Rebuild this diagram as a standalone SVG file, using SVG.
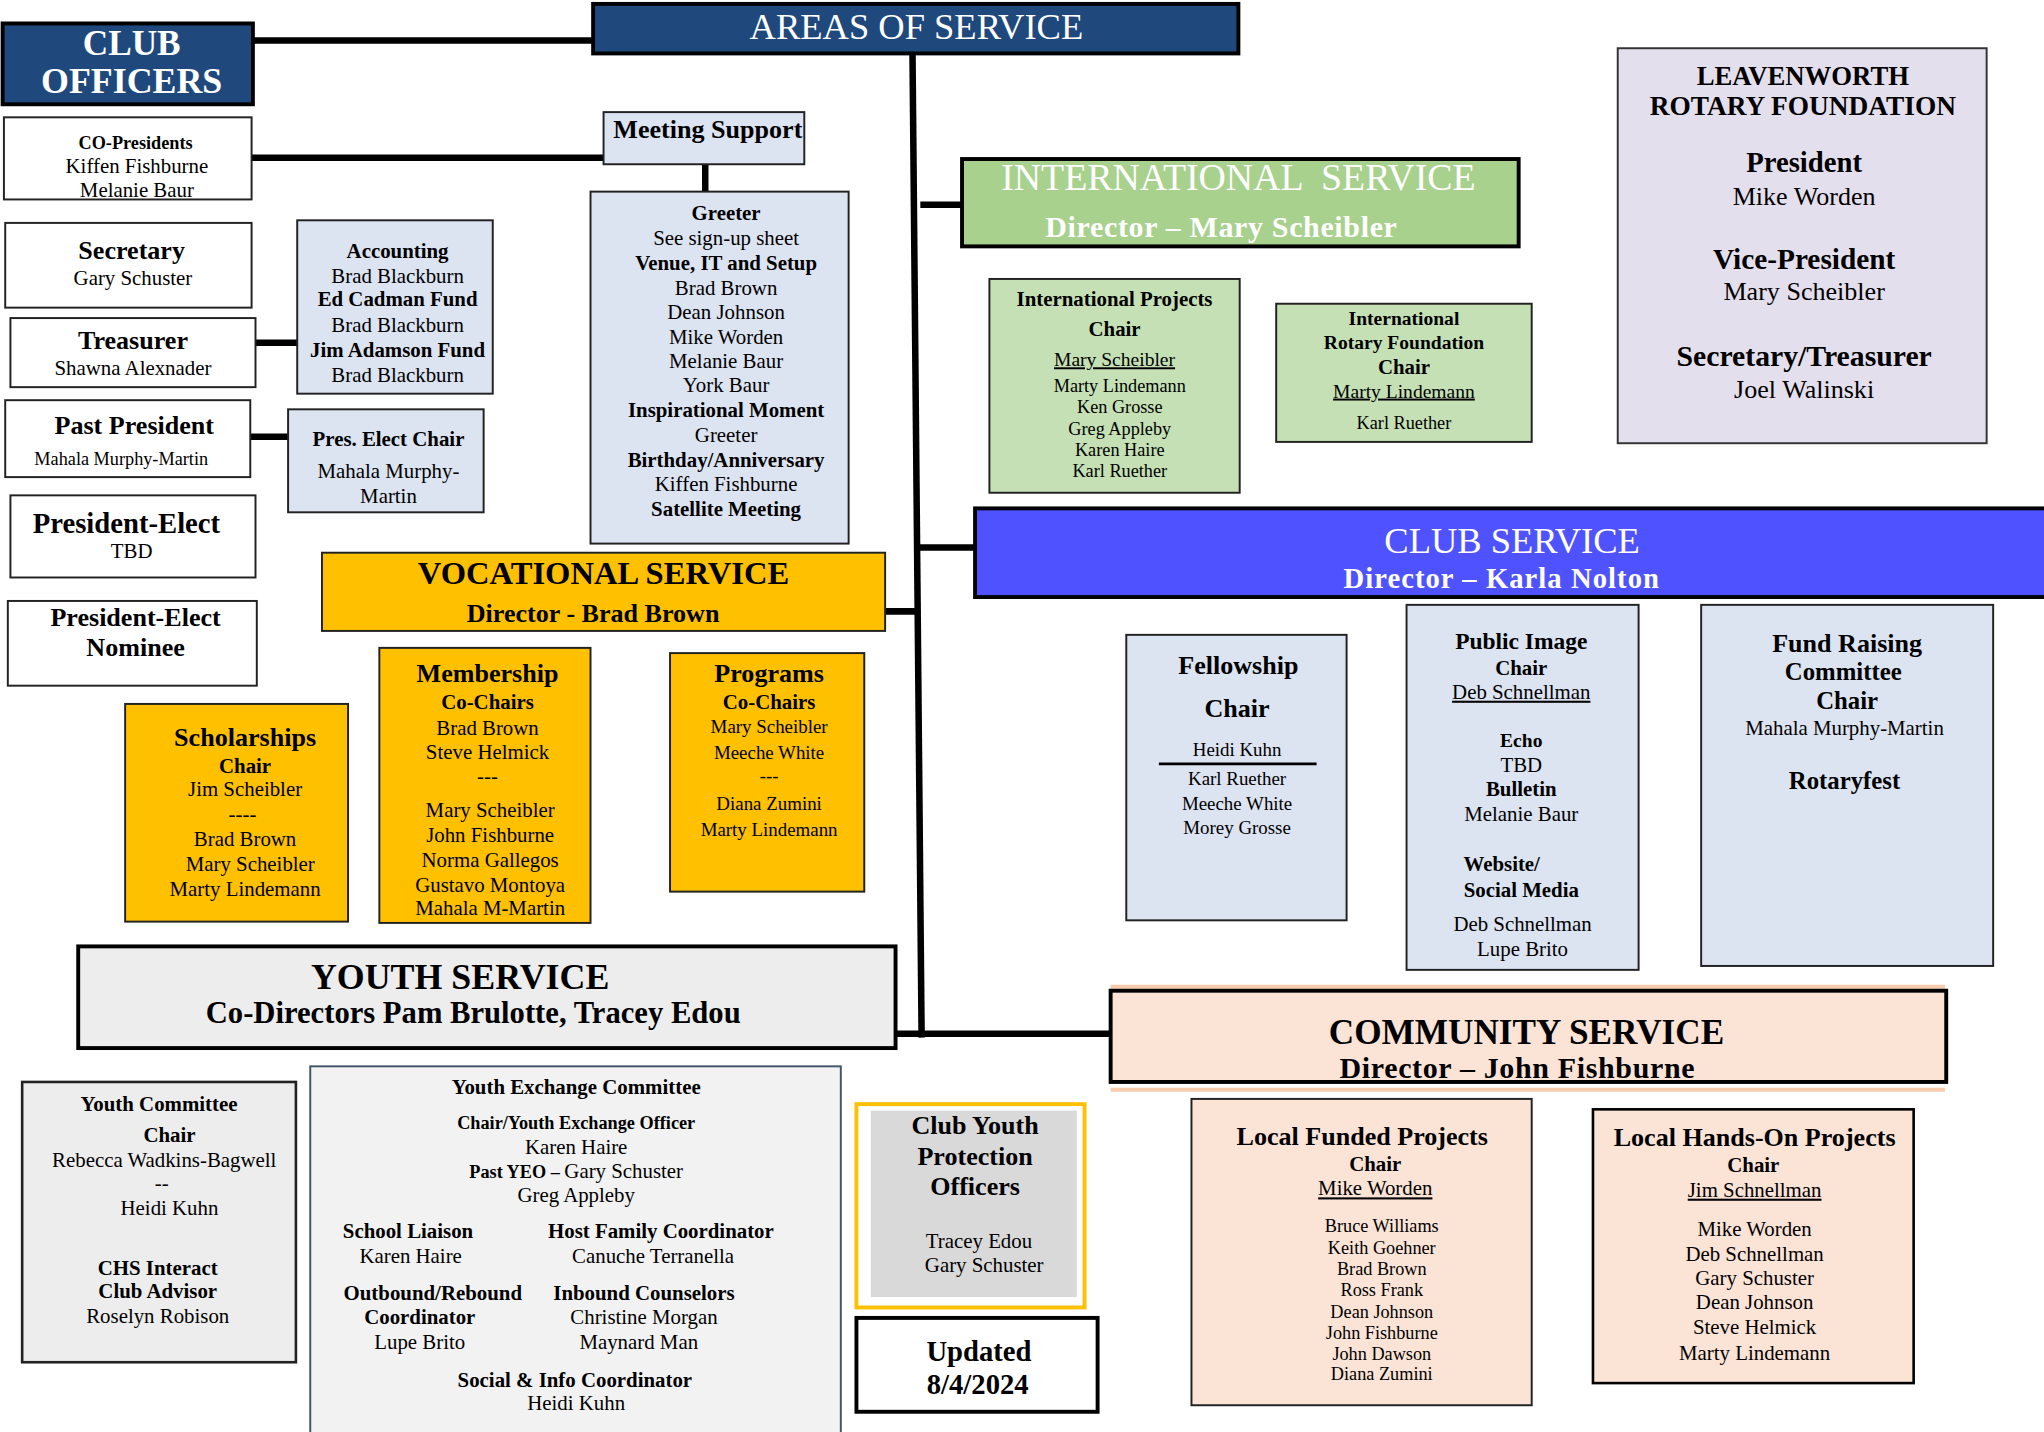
<svg xmlns="http://www.w3.org/2000/svg" width="2044" height="1432" viewBox="0 0 2044 1432">
<style>
.t{font-family:"Liberation Serif","Times New Roman",serif;text-anchor:middle;fill:#000}
.b{font-weight:bold}
.w{fill:#fff}
.u{text-decoration:underline}
.bx{stroke:#222;stroke-width:1.5}
.hd{stroke:#000;stroke-width:3}
.wh{fill:#fff}
.lb{fill:#DCE3F1}
.yl{fill:#FFC000}
.gn{fill:#C5E0B4}
.pc{fill:#FBE3D6}
.gy{fill:#EDEDED}
.cn{stroke:#000;stroke-width:5;fill:none}
</style>
<rect x="0" y="0" width="2044" height="1432" fill="#fff"/>
<g transform="scale(1.303571)">
<g id="connectors">
<line class="cn" x1="194" y1="31" x2="456" y2="31"/>
<line class="cn" x1="700" y1="41" x2="707" y2="796"/>
<line class="cn" x1="193" y1="121" x2="464" y2="121"/>
<line class="cn" x1="541" y1="126" x2="541" y2="148"/>
<line class="cn" x1="190" y1="263" x2="229" y2="263"/>
<line class="cn" x1="192" y1="335" x2="222" y2="335"/>
<line class="cn" x1="706" y1="157" x2="739" y2="157"/>
<line class="cn" x1="704" y1="420" x2="749" y2="420"/>
<line class="cn" x1="679" y1="469" x2="705" y2="469"/>
<line class="cn" x1="687" y1="793" x2="853" y2="793"/>
</g>

<g id="club-officers">
<rect x="2" y="18" width="192" height="62" fill="#1F497D" class="hd"/>
<text class="t b w" x="101" y="42" font-size="27">CLUB</text>
<text class="t b w" x="101" y="71" font-size="27.5">OFFICERS</text>
</g>

<g id="areas-of-service">
<rect x="455" y="3" width="495" height="38" fill="#1F497D" class="hd"/>
<text class="t w" x="703" y="30" font-size="28">AREAS OF SERVICE</text>
</g>

<g id="co-presidents">
<rect x="3" y="90" width="190" height="63" class="wh bx"/>
<text class="t b" x="104" y="114" font-size="14">CO-Presidents</text>
<text class="t" x="105" y="133" font-size="16">Kiffen Fishburne</text>
<text class="t" x="105" y="151" font-size="16">Melanie Baur</text>
</g>

<g id="secretary">
<rect x="4" y="171" width="189" height="65" class="wh bx"/>
<text class="t b" x="101" y="199" font-size="20">Secretary</text>
<text class="t" x="102" y="219" font-size="16">Gary Schuster</text>
</g>

<g id="treasurer">
<rect x="8" y="244" width="188" height="53" class="wh bx"/>
<text class="t b" x="102" y="268" font-size="20">Treasurer</text>
<text class="t" x="102" y="288" font-size="16">Shawna Alexnader</text>
</g>

<g id="past-president">
<rect x="4" y="307" width="188" height="59" class="wh bx"/>
<text class="t b" x="103" y="333" font-size="20">Past President</text>
<text class="t" x="93" y="357" font-size="14">Mahala Murphy-Martin</text>
</g>

<g id="president-elect">
<rect x="8" y="380" width="188" height="63" class="wh bx"/>
<text class="t b" x="97" y="409" font-size="22">President-Elect</text>
<text class="t" x="101" y="428" font-size="16">TBD</text>
</g>

<g id="president-elect-nominee">
<rect x="6" y="461" width="191" height="65" class="wh bx"/>
<text class="t b" x="104" y="480" font-size="20">President-Elect</text>
<text class="t b" x="104" y="503" font-size="20">Nominee</text>
</g>

<g id="accounting">
<rect x="228" y="169" width="150" height="133" class="lb bx"/>
<text class="t b" x="305" y="198" font-size="16">Accounting</text>
<text class="t" x="305" y="217" font-size="16">Brad Blackburn</text>
<text class="t b" x="305" y="235" font-size="16">Ed Cadman Fund</text>
<text class="t" x="305" y="255" font-size="16">Brad Blackburn</text>
<text class="t b" x="305" y="274" font-size="16">Jim Adamson Fund</text>
<text class="t" x="305" y="293" font-size="16">Brad Blackburn</text>
</g>

<g id="pres-elect-chair">
<rect x="221" y="314" width="150" height="79" class="lb bx"/>
<text class="t b" x="298" y="342" font-size="16">Pres. Elect Chair</text>
<text class="t" x="298" y="367" font-size="16">Mahala Murphy-</text>
<text class="t" x="298" y="386" font-size="16">Martin</text>
</g>

<g id="meeting-support">
<rect x="463" y="86" width="154" height="40" class="lb bx"/>
<text class="t b" x="543" y="106" font-size="20">Meeting Support</text>
</g>

<g id="greeter">
<rect x="453" y="147" width="198" height="270" class="lb bx"/>
<text class="t b" x="557" y="169" font-size="16">Greeter</text>
<text class="t" x="557" y="188" font-size="16">See sign-up sheet</text>
<text class="t b" x="557" y="207" font-size="16">Venue, IT and Setup</text>
<text class="t" x="557" y="226" font-size="16">Brad Brown</text>
<text class="t" x="557" y="245" font-size="16">Dean Johnson</text>
<text class="t" x="557" y="264" font-size="16">Mike Worden</text>
<text class="t" x="557" y="282" font-size="16">Melanie Baur</text>
<text class="t" x="557" y="301" font-size="16">York Baur</text>
<text class="t b" x="557" y="320" font-size="16">Inspirational Moment</text>
<text class="t" x="557" y="339" font-size="16">Greeter</text>
<text class="t b" x="557" y="358" font-size="16">Birthday/Anniversary</text>
<text class="t" x="557" y="377" font-size="16">Kiffen Fishburne</text>
<text class="t b" x="557" y="396" font-size="16">Satellite Meeting</text>
</g>

<g id="international-service">
<rect x="738" y="122" width="427" height="67" fill="#A9D18E" class="hd"/>
<text class="t w" x="950" y="146" font-size="29" xml:space="preserve">INTERNATIONAL  SERVICE</text>
<text class="t b w" x="937" y="182" font-size="23" letter-spacing="0.5">Director – Mary Scheibler</text>
</g>

<g id="international-projects">
<rect x="759" y="214" width="192" height="164" class="gn bx"/>
<text class="t b" x="855" y="235" font-size="16">International Projects</text>
<text class="t b" x="855" y="258" font-size="16">Chair</text>
<text class="t u" x="855" y="281" font-size="15">Mary Scheibler</text>
<text class="t" x="859" y="301" font-size="14">Marty Lindemann</text>
<text class="t" x="859" y="317" font-size="14">Ken Grosse</text>
<text class="t" x="859" y="334" font-size="14">Greg Appleby</text>
<text class="t" x="859" y="350" font-size="14">Karen Haire</text>
<text class="t" x="859" y="366" font-size="14">Karl Ruether</text>
</g>

<g id="international-rotary-foundation">
<rect x="979" y="233" width="196" height="106" class="gn bx"/>
<text class="t b" x="1077" y="249" font-size="15">International</text>
<text class="t b" x="1077" y="268" font-size="15">Rotary Foundation</text>
<text class="t b" x="1077" y="287" font-size="16">Chair</text>
<text class="t u" x="1077" y="305" font-size="15">Marty Lindemann</text>
<text class="t" x="1077" y="329" font-size="14">Karl Ruether</text>
</g>

<g id="leavenworth-foundation">
<rect x="1241" y="37" width="283" height="303" fill="#E4DFEC" stroke="#333" stroke-width="1.5"/>
<text class="t b" x="1383" y="65" font-size="20.5">LEAVENWORTH</text>
<text class="t b" x="1383" y="88" font-size="21">ROTARY FOUNDATION</text>
<text class="t b" x="1384" y="132" font-size="22">President</text>
<text class="t" x="1384" y="157" font-size="20">Mike Worden</text>
<text class="t b" x="1384" y="206" font-size="22.5">Vice-President</text>
<text class="t" x="1384" y="230" font-size="20">Mary Scheibler</text>
<text class="t b" x="1384" y="281" font-size="22.8">Secretary/Treasurer</text>
<text class="t" x="1384" y="305" font-size="20">Joel Walinski</text>
</g>

<g id="club-service">
<rect x="748" y="390" width="830" height="68" fill="#4F53FF" class="hd"/>
<text class="t w" x="1160" y="424" font-size="28">CLUB SERVICE</text>
<text class="t b w" x="1152" y="451" font-size="22" letter-spacing="0.8">Director – Karla Nolton</text>
</g>

<g id="fellowship">
<rect x="864" y="487" width="169" height="219" class="lb bx"/>
<text class="t b" x="950" y="517" font-size="20">Fellowship</text>
<text class="t b" x="949" y="550" font-size="20">Chair</text>
<text class="t" x="949" y="580" font-size="14.5">Heidi Kuhn</text>
<line x1="889" y1="586" x2="1010" y2="586" stroke="#000" stroke-width="2"/>
<text class="t" x="949" y="602" font-size="14.5">Karl Ruether</text>
<text class="t" x="949" y="621" font-size="14.5">Meeche White</text>
<text class="t" x="949" y="640" font-size="14.5">Morey Grosse</text>
</g>

<g id="public-image">
<rect x="1079" y="464" width="178" height="280" class="lb bx"/>
<text class="t b" x="1167" y="498" font-size="18">Public Image</text>
<text class="t b" x="1167" y="518" font-size="16">Chair</text>
<text class="t u" x="1167" y="536" font-size="16">Deb Schnellman</text>
<text class="t b" x="1167" y="573" font-size="15">Echo</text>
<text class="t" x="1167" y="592" font-size="16">TBD</text>
<text class="t b" x="1167" y="611" font-size="16">Bulletin</text>
<text class="t" x="1167" y="630" font-size="16">Melanie Baur</text>
<text class="t b" x="1152" y="668" font-size="16">Website/</text>
<text class="t b" x="1167" y="688" font-size="16">Social Media</text>
<text class="t" x="1168" y="714" font-size="16">Deb Schnellman</text>
<text class="t" x="1168" y="733" font-size="16">Lupe Brito</text>
</g>

<g id="fund-raising">
<rect x="1305" y="464" width="224" height="277" class="lb bx"/>
<text class="t b" x="1417" y="500" font-size="20">Fund Raising</text>
<text class="t b" x="1414" y="522" font-size="19">Committee</text>
<text class="t b" x="1417" y="544" font-size="19">Chair</text>
<text class="t" x="1415" y="564" font-size="16">Mahala Murphy-Martin</text>
<text class="t b" x="1415" y="605" font-size="19">Rotaryfest</text>
</g>

<g id="vocational-service">
<rect x="247" y="424" width="432" height="60" class="yl" stroke="#222" stroke-width="1.5"/>
<text class="t b" x="463" y="448" font-size="25">VOCATIONAL SERVICE</text>
<text class="t b" x="455" y="477" font-size="20">Director - Brad Brown</text>
</g>

<g id="scholarships">
<rect x="96" y="540" width="171" height="167" class="yl bx"/>
<text class="t b" x="188" y="572" font-size="20">Scholarships</text>
<text class="t b" x="188" y="593" font-size="16">Chair</text>
<text class="t" x="188" y="611" font-size="16">Jim Scheibler</text>
<text class="t" x="186" y="630" font-size="16">----</text>
<text class="t" x="188" y="649" font-size="16">Brad Brown</text>
<text class="t" x="192" y="668" font-size="16">Mary Scheibler</text>
<text class="t" x="188" y="687" font-size="16">Marty Lindemann</text>
</g>

<g id="membership">
<rect x="291" y="497" width="162" height="211" class="yl bx"/>
<text class="t b" x="374" y="523" font-size="20">Membership</text>
<text class="t b" x="374" y="544" font-size="16">Co-Chairs</text>
<text class="t" x="374" y="564" font-size="16">Brad Brown</text>
<text class="t" x="374" y="582" font-size="16">Steve Helmick</text>
<text class="t" x="374" y="601" font-size="16">---</text>
<text class="t" x="376" y="627" font-size="16">Mary Scheibler</text>
<text class="t" x="376" y="646" font-size="16">John Fishburne</text>
<text class="t" x="376" y="665" font-size="16">Norma Gallegos</text>
<text class="t" x="376" y="684" font-size="16">Gustavo Montoya</text>
<text class="t" x="376" y="702" font-size="16">Mahala M-Martin</text>
</g>

<g id="programs">
<rect x="514" y="501" width="149" height="183" class="yl bx"/>
<text class="t b" x="590" y="523" font-size="20">Programs</text>
<text class="t b" x="590" y="544" font-size="16">Co-Chairs</text>
<text class="t" x="590" y="562" font-size="14.5">Mary Scheibler</text>
<text class="t" x="590" y="582" font-size="14.5">Meeche White</text>
<text class="t" x="590" y="600" font-size="14.5">---</text>
<text class="t" x="590" y="621" font-size="14.5">Diana Zumini</text>
<text class="t" x="590" y="641" font-size="14.5">Marty Lindemann</text>
</g>

<g id="youth-service">
<rect x="60" y="726" width="627" height="78" class="gy hd"/>
<text class="t b" x="353" y="759" font-size="27.5">YOUTH SERVICE</text>
<text class="t b" x="363" y="785" font-size="23.5">Co-Directors Pam Brulotte, Tracey Edou</text>
</g>

<g id="youth-committee">
<rect x="17" y="830" width="210" height="215" class="gy" stroke="#222" stroke-width="2"/>
<text class="t b" x="122" y="852" font-size="16">Youth Committee</text>
<text class="t b" x="130" y="876" font-size="16">Chair</text>
<text class="t" x="126" y="895" font-size="16">Rebecca Wadkins-Bagwell</text>
<text class="t" x="124" y="913" font-size="16">--</text>
<text class="t" x="130" y="932" font-size="16">Heidi Kuhn</text>
<text class="t b" x="121" y="978" font-size="16">CHS Interact</text>
<text class="t b" x="121" y="996" font-size="16">Club Advisor</text>
<text class="t" x="121" y="1015" font-size="16">Roselyn Robison</text>
</g>

<g id="youth-exchange-committee">
<rect x="238" y="818" width="407" height="290" fill="#F2F2F2" stroke="#44546A" stroke-width="1.5"/>
<text class="t b" x="442" y="839" font-size="16">Youth Exchange Committee</text>
<text class="t b" x="442" y="866" font-size="14">Chair/Youth Exchange Officer</text>
<text class="t" x="442" y="885" font-size="16">Karen Haire</text>
<text class="t" x="442" y="904" font-size="16"><tspan font-weight="bold" font-size="14">Past YEO – </tspan>Gary Schuster</text>
<text class="t" x="442" y="922" font-size="16">Greg Appleby</text>
<text class="t b" x="313" y="950" font-size="16">School Liaison</text>
<text class="t" x="315" y="969" font-size="16">Karen Haire</text>
<text class="t b" x="507" y="950" font-size="16">Host Family Coordinator</text>
<text class="t" x="501" y="969" font-size="16">Canuche Terranella</text>
<text class="t b" x="332" y="997" font-size="16">Outbound/Rebound</text>
<text class="t b" x="322" y="1016" font-size="16">Coordinator</text>
<text class="t" x="322" y="1035" font-size="16">Lupe Brito</text>
<text class="t b" x="494" y="997" font-size="16">Inbound Counselors</text>
<text class="t" x="494" y="1016" font-size="16">Christine Morgan</text>
<text class="t" x="490" y="1035" font-size="16">Maynard Man</text>
<text class="t b" x="441" y="1064" font-size="16">Social &amp; Info Coordinator</text>
<text class="t" x="442" y="1082" font-size="16">Heidi Kuhn</text>
</g>

<g id="club-youth-protection-officers">
<rect x="657" y="847" width="175" height="156" fill="#fff" stroke="#FFC000" stroke-width="3"/>
<rect x="668" y="852" width="158" height="143" fill="#D9D9D9"/>
<text class="t b" x="748" y="870" font-size="20">Club Youth</text>
<text class="t b" x="748" y="894" font-size="20">Protection</text>
<text class="t b" x="748" y="917" font-size="20">Officers</text>
<text class="t" x="751" y="957" font-size="16">Tracey Edou</text>
<text class="t" x="755" y="976" font-size="16">Gary Schuster</text>
</g>

<g id="updated">
<rect x="657" y="1011" width="185" height="72" class="wh hd"/>
<text class="t b" x="751" y="1044" font-size="22">Updated</text>
<text class="t b" x="750" y="1069" font-size="22">8/4/2024</text>
</g>

<g id="community-service">
<line x1="852" y1="757" x2="1492" y2="757" stroke="#F8CBAD" stroke-width="3"/>
<line x1="852" y1="836" x2="1492" y2="836" stroke="#F8CBAD" stroke-width="3"/>
<rect x="852" y="760" width="641" height="70" class="pc hd"/>
<text class="t b" x="1171" y="801" font-size="27">COMMUNITY SERVICE</text>
<text class="t b" x="1164" y="827" font-size="23" letter-spacing="0.5">Director – John Fishburne</text>
</g>

<g id="local-funded-projects">
<rect x="914" y="843" width="261" height="235" class="pc bx"/>
<text class="t b" x="1045" y="878" font-size="20">Local Funded Projects</text>
<text class="t b" x="1055" y="898" font-size="16">Chair</text>
<text class="t u" x="1055" y="917" font-size="16">Mike Worden</text>
<text class="t" x="1060" y="945" font-size="14">Bruce Williams</text>
<text class="t" x="1060" y="962" font-size="14">Keith Goehner</text>
<text class="t" x="1060" y="978" font-size="14">Brad Brown</text>
<text class="t" x="1060" y="994" font-size="14">Ross Frank</text>
<text class="t" x="1060" y="1011" font-size="14">Dean Johnson</text>
<text class="t" x="1060" y="1027" font-size="14">John Fishburne</text>
<text class="t" x="1060" y="1043" font-size="14">John Dawson</text>
<text class="t" x="1060" y="1059" font-size="14">Diana Zumini</text>
</g>

<g id="local-hands-on-projects">
<rect x="1222" y="851" width="246" height="210" class="pc" stroke="#000" stroke-width="2"/>
<text class="t b" x="1346" y="879" font-size="20">Local Hands-On Projects</text>
<text class="t b" x="1345" y="899" font-size="16">Chair</text>
<text class="t u" x="1346" y="918" font-size="16">Jim Schnellman</text>
<text class="t" x="1346" y="948" font-size="16">Mike Worden</text>
<text class="t" x="1346" y="967" font-size="16">Deb Schnellman</text>
<text class="t" x="1346" y="986" font-size="16">Gary Schuster</text>
<text class="t" x="1346" y="1004" font-size="16">Dean Johnson</text>
<text class="t" x="1346" y="1023" font-size="16">Steve Helmick</text>
<text class="t" x="1346" y="1043" font-size="16">Marty Lindemann</text>
</g>
</g>
</svg>
